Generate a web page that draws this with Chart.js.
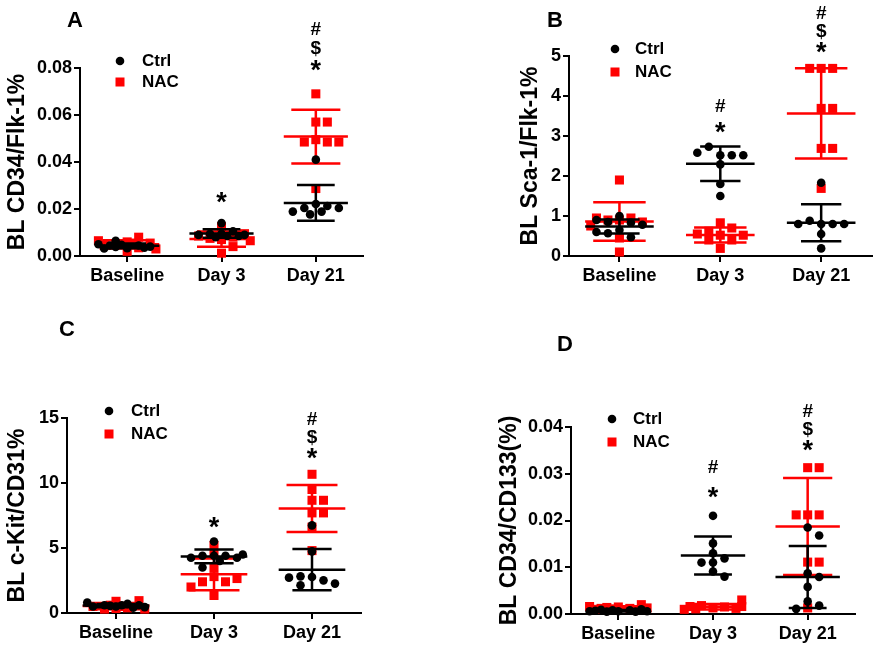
<!DOCTYPE html>
<html>
<head>
<meta charset="utf-8">
<script src="https://cdn.jsdelivr.net/npm/chart.js@4.4.1/dist/chart.umd.min.js"></script>
<style>
  body { margin: 0; background: #fff; width: 878px; height: 648px; position: relative; overflow: hidden; }
  .panel { position: absolute; }
</style>
</head>
<body>
<div class="panel" style="left:0;top:0;width:439px;height:300px"><canvas id="cA"></canvas></div>
<div class="panel" style="left:439px;top:0;width:439px;height:300px"><canvas id="cB"></canvas></div>
<div class="panel" style="left:0;top:300px;width:439px;height:348px"><canvas id="cC"></canvas></div>
<div class="panel" style="left:439px;top:300px;width:439px;height:348px"><canvas id="cD"></canvas></div>
<script>
// groups on the x axis
const categories = ['Baseline', 'Day 3', 'Day 21'];

// A - BL CD34/Flk-1%  (one inner list per category)
const ctrlA = [
  [0.0033, 0.0045, 0.0065, 0.0040, 0.0032, 0.0050, 0.0045, 0.0038, 0.0048, 0.0035],
  [0.0140, 0.0105, 0.0095, 0.0095, 0.0090, 0.0090, 0.0085, 0.0080, 0.0085],
  [0.0410, 0.0221, 0.0213, 0.0204, 0.0204, 0.0189, 0.0189, 0.0177]
];
const nacA = [
  [0.0020, 0.0035, 0.0050, 0.0060, 0.0055, 0.0080, 0.0045, 0.0030, 0.0065, 0.0055],
  [0.0125, 0.0012, 0.0040, 0.0070, 0.0080, 0.0075, 0.0095, 0.0085, 0.0065],
  [0.0690, 0.0570, 0.0570, 0.0495, 0.0485, 0.0485, 0.0485, 0.0287]
];
const yTicksA = [0, 0.02, 0.04, 0.06, 0.08];
const sigA = [[], ['*'], ['*', '$', '#']];

// B - BL Sca-1/Flk-1%
const ctrlB = [
  [0.65, 0.83, 0.85, 0.47, 0.57, 1.00, 0.78, 0.90, 0.60],
  [2.52, 2.52, 2.73, 2.52, 2.58, 2.29, 1.80, 1.50],
  [1.83, 0.80, 0.80, 0.88, 0.80, 0.80, 0.55, 0.19]
];
const nacB = [
  [1.90, 0.90, 0.95, 0.45, 0.10, 0.90, 0.85, 0.95, 0.75],
  [0.52, 0.70, 0.62, 0.83, 0.52, 0.19, 0.40, 0.40, 0.55],
  [4.69, 4.69, 4.69, 3.69, 3.69, 2.69, 2.69, 1.69]
];
const yTicksB = [0, 1, 2, 3, 4, 5];
const sigB = [[], ['*', '#'], ['*', '$', '#']];

// C - BL c-Kit/CD31%
const ctrlC = [
  [0.50, 0.70, 0.60, 0.60, 0.50, 0.40, 0.60, 0.80, 0.55, 0.45],
  [5.50, 4.40, 4.40, 4.40, 4.25, 4.25, 4.00, 3.50, 4.50],
  [6.74, 4.74, 2.77, 2.51, 2.13, 2.82, 2.26, 2.72]
];
const nacC = [
  [0.90, 0.40, 0.30, 0.95, 0.50, 0.30, 0.60, 0.35, 0.50],
  [5.20, 4.50, 2.80, 2.40, 2.40, 2.65, 1.35, 2.00, 3.50],
  [10.67, 8.67, 8.67, 7.70, 7.70, 6.60, 4.80, 9.50]
];
const yTicksC = [0, 5, 10, 15];
const sigC = [[], ['*'], ['*', '$', '#']];

// D - BL CD34/CD133(%)
const ctrlD = [
  [0.0006, 0.0008, 0.0005, 0.0010, 0.0007, 0.0006, 0.0008, 0.0005, 0.0009, 0.0006],
  [0.0210, 0.0151, 0.0130, 0.0119, 0.0110, 0.0110, 0.0091, 0.0080],
  [0.0185, 0.0168, 0.0087, 0.0079, 0.0058, 0.0027, 0.0018, 0.0011]
];
const nacD = [
  [0.0015, 0.0012, 0.0014, 0.0020, 0.0010, 0.0013, 0.0016, 0.0011, 0.0012],
  [0.0013, 0.0015, 0.0018, 0.0012, 0.0016, 0.0030, 0.0011, 0.0010, 0.0016],
  [0.0313, 0.0313, 0.0212, 0.0212, 0.0212, 0.0111, 0.0111, 0.0013]
];
const yTicksD = [0, 0.01, 0.02, 0.03, 0.04];
const sigD = [[], ['*', '#'], ['*', '$', '#']];

const FONT = '"Liberation Sans", Arial, sans-serif';
const RED = '#ff0000';
Chart.defaults.font.family = FONT;
Chart.defaults.color = '#000';

const mean = a => a.reduce((s, v) => s + v, 0) / a.length;
const sd = a => { const m = mean(a); return Math.sqrt(a.reduce((s, v) => s + (v - m) * (v - m), 0) / (a.length - 1)); };

// bounded beeswarm: spread sideways, but at most ~2.5 steps, overlap when crowded
const SLOTS = [0, 1, -1, 2, -2, 0.5, -0.5, 1.5, -1.5, 2.5, -2.5];
function swarm(groups, pxX, pxY) {
  const pts = [];
  groups.forEach((vals, i) => {
    const placed = [];
    vals.forEach(v => {
      const yp = v * pxY;
      let best = null, bestD = -1;
      for (const off of SLOTS) {
        const xp = off * 11.5;
        const free = !placed.some(p => Math.abs(p.y - yp) < 8.5 && Math.abs(p.x - xp) < 10);
        if (free) { best = xp; break; }
        const d = Math.min(...placed.map(p => Math.hypot(p.x - xp, p.y - yp)));
        if (d > bestD) { bestD = d; best = xp; }
      }
      placed.push({ x: best, y: yp });
      pts.push({ x: i + 1 + best / pxX, y: v });
    });
  });
  return pts;
}

// mean line + SD whiskers + caps, gaps split by null
function bars(groups, meanHalf, capHalf) {
  const pts = [];
  groups.forEach((vals, i) => {
    const c = i + 1, m = mean(vals), s = sd(vals);
    pts.push({ x: c - meanHalf, y: m }, { x: c + meanHalf, y: m }, { x: c, y: null });
    pts.push({ x: c, y: m - s }, { x: c, y: m + s }, { x: c, y: null });
    pts.push({ x: c - capHalf, y: m + s }, { x: c + capHalf, y: m + s }, { x: c, y: null });
    pts.push({ x: c - capHalf, y: m - s }, { x: c + capHalf, y: m - s }, { x: c, y: null });
  });
  return pts;
}

const deco = {
  id: 'deco',
  afterDraw(chart, args, o) {
    const { ctx, scales: { x, y } } = chart;
    ctx.save();
    ctx.fillStyle = '#000';
    // panel letter
    ctx.font = 'bold 22px ' + FONT;
    ctx.textAlign = 'center';
    ctx.textBaseline = 'middle';
    ctx.fillText(o.letter, o.letterPos[0], o.letterPos[1]);
    // legend
    const L = o.legend;
    ctx.beginPath();
    ctx.arc(L.x, L.y, 4.3, 0, Math.PI * 2);
    ctx.fill();
    ctx.fillStyle = RED;
    ctx.fillRect(L.x - 4.5, L.y + L.dy - 4.5, 9, 9);
    ctx.fillStyle = '#000';
    ctx.font = 'bold 17px ' + FONT;
    ctx.textAlign = 'left';
    ctx.fillText('Ctrl', L.tx, L.y);
    ctx.fillText('NAC', L.tx, L.y + L.dy);
    // significance marks (asterisk drawn larger, it sits high in the font)
    ctx.textAlign = 'center';
    ctx.textBaseline = 'alphabetic';
    o.sig.forEach((marks, i) => {
      marks.forEach((t, j) => {
        const big = t === '*';
        ctx.font = 'bold ' + (big ? 27 : 19) + 'px ' + FONT;
        ctx.fillText(t, x.getPixelForValue(i + 1), y.getPixelForValue(o.sigY[i]) - j * o.sigGap[i] + (big ? 6 : 0));
      });
    });
    ctx.restore();
  }
};

function makePanel(p) {
  const canvas = document.getElementById(p.id);
  const W = canvas.parentNode.clientWidth, H = canvas.parentNode.clientHeight;
  const areaW = W - p.pad.left - p.pad.right - p.yW;
  const areaH = H - p.pad.top - p.pad.bottom - p.xH;
  const ymax = p.ticks[p.ticks.length - 1];
  const pxX = areaW / 3, pxY = areaH / ymax;
  const ptBase = { type: 'scatter', showLine: false, clip: false, pointBorderWidth: 0, pointHoverRadius: 0 };
  const lineBase = { type: 'scatter', showLine: true, spanGaps: false, clip: false, pointRadius: 0, pointHoverRadius: 0, borderWidth: 2.5, borderCapStyle: 'butt' };

  new Chart(canvas, {
    type: 'scatter',
    data: {
      datasets: [
        Object.assign({}, lineBase, { label: 'Ctrl SD', data: bars(p.ctrl, 0.34, 0.2), borderColor: '#000', order: 1 }),
        Object.assign({}, ptBase, { label: 'Ctrl', data: swarm(p.ctrl, pxX, pxY), pointStyle: 'circle', pointRadius: 4.3, backgroundColor: '#000', order: 2 }),
        Object.assign({}, lineBase, { label: 'NAC SD', data: bars(p.nac, 0.34, 0.26), borderColor: RED, order: 3 }),
        Object.assign({}, ptBase, { label: 'NAC', data: swarm(p.nac, pxX, pxY), pointStyle: 'rect', pointRadius: 6.4, backgroundColor: RED, order: 4 })
      ]
    },
    options: {
      responsive: true,
      maintainAspectRatio: false,
      animation: false,
      events: [],
      layout: { padding: p.pad },
      plugins: {
        legend: { display: false },
        tooltip: { enabled: false },
        deco: { letter: p.letter, letterPos: p.letterPos, legend: p.legend, sig: p.sig, sigY: p.sigY, sigGap: p.sigGap }
      },
      scales: {
        x: {
          type: 'linear', min: 0.5, max: 3.5,
          afterBuildTicks: s => { s.ticks = categories.map((c, i) => ({ value: i + 1 })); },
          afterFit: s => { s.height = p.xH; },
          ticks: { callback: v => categories[v - 1], font: { size: 18, weight: 'bold' }, padding: 3, maxRotation: 0, autoSkip: false, color: '#000' },
          grid: { drawOnChartArea: false, drawTicks: true, tickLength: 6, color: '#000', lineWidth: 2 },
          border: { display: true, color: '#000', width: 2 }
        },
        y: {
          type: 'linear', min: 0, max: ymax,
          afterBuildTicks: s => { s.ticks = p.ticks.map(v => ({ value: v })); },
          afterFit: s => { s.width = p.yW; },
          ticks: { callback: v => v.toFixed(p.dec), font: { size: 18, weight: 'bold' }, padding: 2, color: '#000' },
          grid: { drawOnChartArea: false, drawTicks: true, tickLength: 6, color: '#000', lineWidth: 2 },
          border: { display: true, color: '#000', width: 2 },
          title: { display: true, text: p.title, font: { size: 23, weight: 'bold' }, padding: 0, color: '#000' }
        }
      }
    },
    plugins: [deco]
  });
}

makePanel({ id: 'cA', ctrl: ctrlA, nac: nacA, ticks: yTicksA, dec: 2, title: 'BL CD34/Flk-1%', letter: 'A',
  pad: { left: 4, right: 76, top: 68, bottom: 4 }, yW: 76, xH: 40,
  letterPos: [75, 21], legend: { x: 120, y: 61, dy: 21, tx: 142 },
  sig: sigA, sigY: [0, 0.0217, 0.0779], sigGap: [0, 19, 19] });

makePanel({ id: 'cB', ctrl: ctrlB, nac: nacB, ticks: yTicksB, dec: 0, title: 'BL Sca-1/Flk-1%', letter: 'B',
  pad: { left: 78, right: 6, top: 56, bottom: 4 }, yW: 52, xH: 40,
  letterPos: [116, 21], legend: { x: 176, y: 49, dy: 23, tx: 196 },
  sig: sigB, sigY: [0, 3.02, 5.02], sigGap: [0, 23, 18] });

makePanel({ id: 'cC', ctrl: ctrlC, nac: nacC, ticks: yTicksC, dec: 0, title: 'BL c-Kit/CD31%', letter: 'C',
  pad: { left: 4, right: 78, top: 118, bottom: 3 }, yW: 63, xH: 32,
  letterPos: [67, 30], legend: { x: 109, y: 111, dy: 23, tx: 131 },
  sig: sigC, sigY: [0, 6.38, 11.7], sigGap: [0, 18, 18] });

makePanel({ id: 'cD', ctrl: ctrlD, nac: nacD, ticks: yTicksD, dec: 2, title: 'BL CD34/CD133(%)', letter: 'D',
  pad: { left: 57, right: 23, top: 127, bottom: 3 }, yW: 75, xH: 31,
  letterPos: [126, 45], legend: { x: 173, y: 119, dy: 23, tx: 194 },
  sig: sigD, sigY: [0, 0.0244, 0.0344], sigGap: [0, 27, 18] });
</script>
</body>
</html>
